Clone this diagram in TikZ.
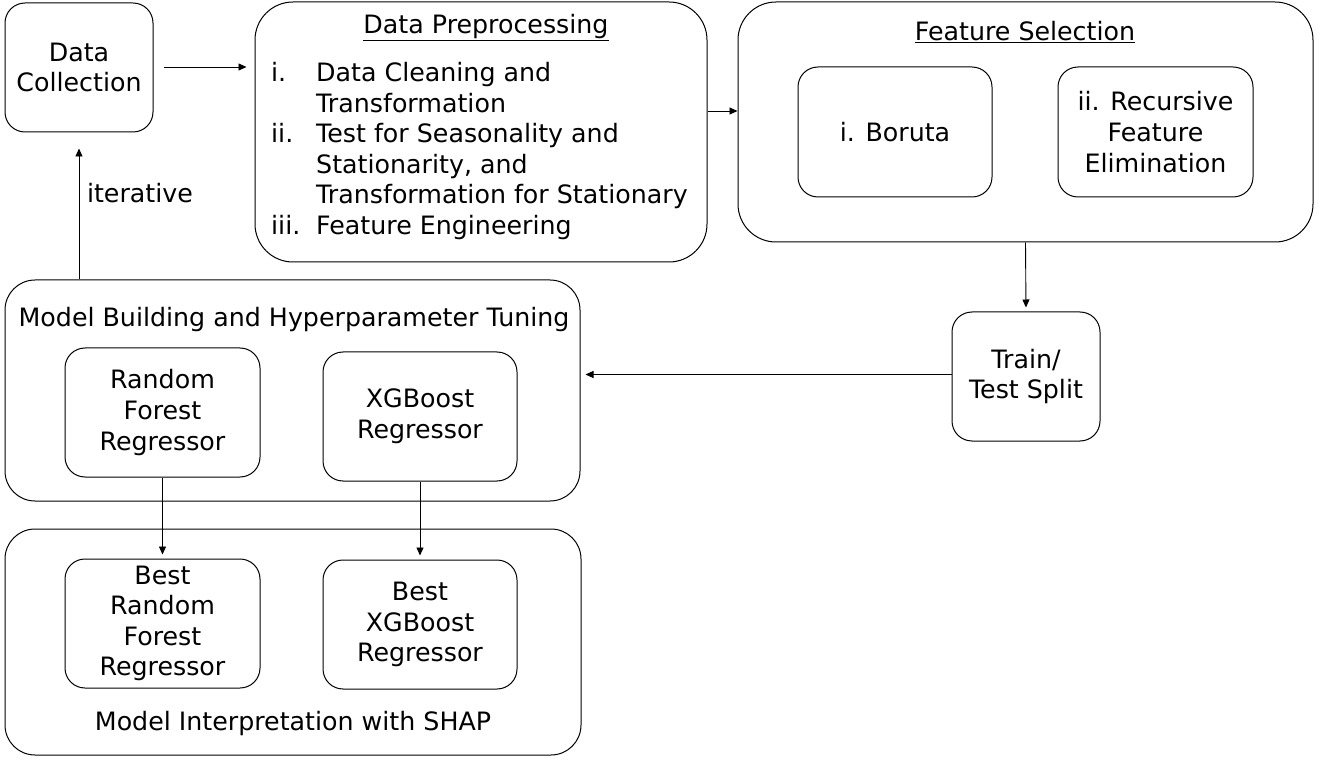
\documentclass[tikz,border=0pt]{standalone}
\usepackage{fontspec}
\setmainfont{DejaVu Sans}
\usetikzlibrary{arrows.meta,calc}
\begin{document}
\begin{tikzpicture}[x=1pt,y=-1pt,
  txt/.style={font=\fontsize{25.3}{30.6}\selectfont, align=center, inner sep=0pt},
  box/.style={draw, line width=1pt, rounded corners=20pt, txt},
  container/.style={draw, line width=1pt, rounded corners=38pt, inner sep=0pt},
  arr/.style={-{Triangle[length=8pt,width=7pt]}, line width=0.9pt}
]
\useasboundingbox (0,0) rectangle (1318,759);
% top row
\node[box, minimum width=148pt, minimum height=129pt] (dc) at (79,67.5) {Data\\Collection};
\node[container, minimum width=452pt, minimum height=260pt] (dp) at (481,132) {};
\node[txt] (dpt) at (486,27.5) {\underline{Data Preprocessing}};
\node[txt, align=left, anchor=north west] (dpl) at (271,62) {%
\makebox[45pt][l]{i.}Data Cleaning and\\
\hspace*{45pt}Transformation\\
\makebox[45pt][l]{ii.}Test for Seasonality and\\
\hspace*{45pt}Stationarity, and\\
\hspace*{45pt}Transformation for Stationary\\
\makebox[45pt][l]{iii.}Feature Engineering};
\node[container, minimum width=575pt, minimum height=240pt] (fs) at (1025.5,122) {};
\node[txt] (fst) at (1025,32) {\underline{Feature Selection}};
\node[box, minimum width=194pt, minimum height=130pt] (bor) at (895,132) {i. Boruta};
\node[box, minimum width=195pt, minimum height=130pt] (rfe) at (1155.5,132) {ii. Recursive\\Feature\\Elimination};
\node[box, minimum width=148pt, minimum height=129pt] (tts) at (1026,376.5) {Train/\\Test Split};
% model building
\node[container, rounded corners=30pt, minimum width=575pt, minimum height=221pt] (mb) at (292.5,390.5) {};
\node[txt] (mbt) at (294,320) {Model Building and Hyperparameter Tuning};
\node[box, minimum width=195pt, minimum height=129pt] (rf) at (162.5,412.5) {Random\\Forest\\Regressor};
\node[box, minimum width=194pt, minimum height=129pt] (xgb) at (420,416.5) {XGBoost\\Regressor};
% interpretation
\node[container, rounded corners=30pt, minimum width=576pt, minimum height=226pt] (mi) at (293,642) {};
\node[box, minimum width=195pt, minimum height=129pt] (brf) at (162.5,623.5) {Best\\Random\\Forest\\Regressor};
\node[box, minimum width=194pt, minimum height=129pt] (bxgb) at (420,624.5) {Best\\XGBoost\\Regressor};
\node[txt] (mit) at (293,724) {Model Interpretation with SHAP};
% connectors
\draw[arr, shorten <=10pt, shorten >=8pt] (dc.east |- 0,67) -- (dp.west |- 0,67);
\draw[arr] (dp.east |- 0,111) -- (fs.west |- 0,111);
\draw[arr, shorten >=4pt] (fs.south) -- (tts.north);
\draw[arr, shorten >=5pt] (tts.west |- 0,374.5) -- (mb.east |- 0,374.5);
\draw[arr, shorten >=16pt] (mb.north -| dc.south) -- (dc.south);
\node[txt] (it) at (140,193) {iterative};
\draw[arr, shorten >=4pt] (rf.south) -- (brf.north);
\draw[arr, shorten >=4pt] (xgb.south) -- (bxgb.north -| xgb.south);
\end{tikzpicture}
\end{document}
